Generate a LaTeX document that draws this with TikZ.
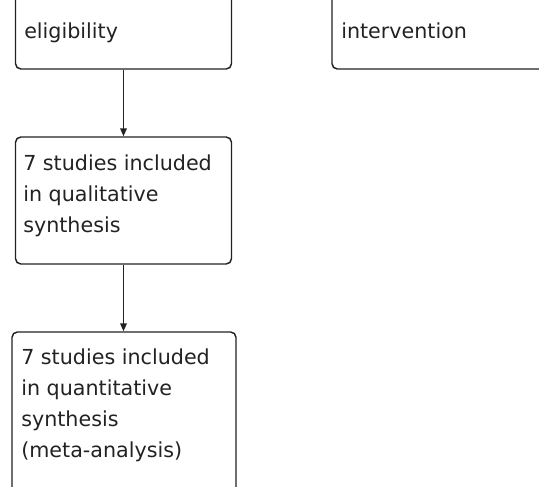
\documentclass[tikz,border=0pt]{standalone}
\usepackage{fontspec}
\setmainfont{DejaVu Sans}
\usetikzlibrary{arrows.meta}
\definecolor{ink}{HTML}{222222}
\begin{document}
\begin{tikzpicture}[x=0.75pt,y=-0.75pt,
  box/.style={draw=ink,line width=1.1pt,rounded corners=4pt,inner sep=0pt,rectangle},
  txt/.style={text=ink,inner sep=0pt,align=left,anchor=base west,font=\fontsize{15.5pt}{23.25pt}\selectfont},
  arr/.style={draw=ink,line width=1.1pt,-{Triangle[length=6pt,width=5pt]}}]
\useasboundingbox (0,0) rectangle (539,486);
\clip (0,0) rectangle (539,486);
\node[box,minimum width=216*0.75pt,minimum height=99*0.75pt] (b1) at (123.5,19.5) {};
\node[box,minimum width=248*0.75pt,minimum height=99*0.75pt] (b4) at (456,19.5) {};
\node[box,minimum width=216*0.75pt,minimum height=127*0.75pt] (b2) at (123.5,200.5) {};
\node[box,minimum width=224*0.75pt,minimum height=188*0.75pt] (b3) at (124,426) {};
\node[txt] (t1) at (24,38) {eligibility};
\node[txt] (t4) at (341,38) {intervention};
\node[txt] (t2) at (23,232) {7 studies included\\in qualitative\\synthesis};
\node[txt] (t3) at (21,457) {7 studies included\\in quantitative\\synthesis\\(meta-analysis)};
\draw[arr] (b1.south) -- (b2.north);
\draw[arr] (b2.south) -- (b2.south |- b3.north);
\end{tikzpicture}
\end{document}
